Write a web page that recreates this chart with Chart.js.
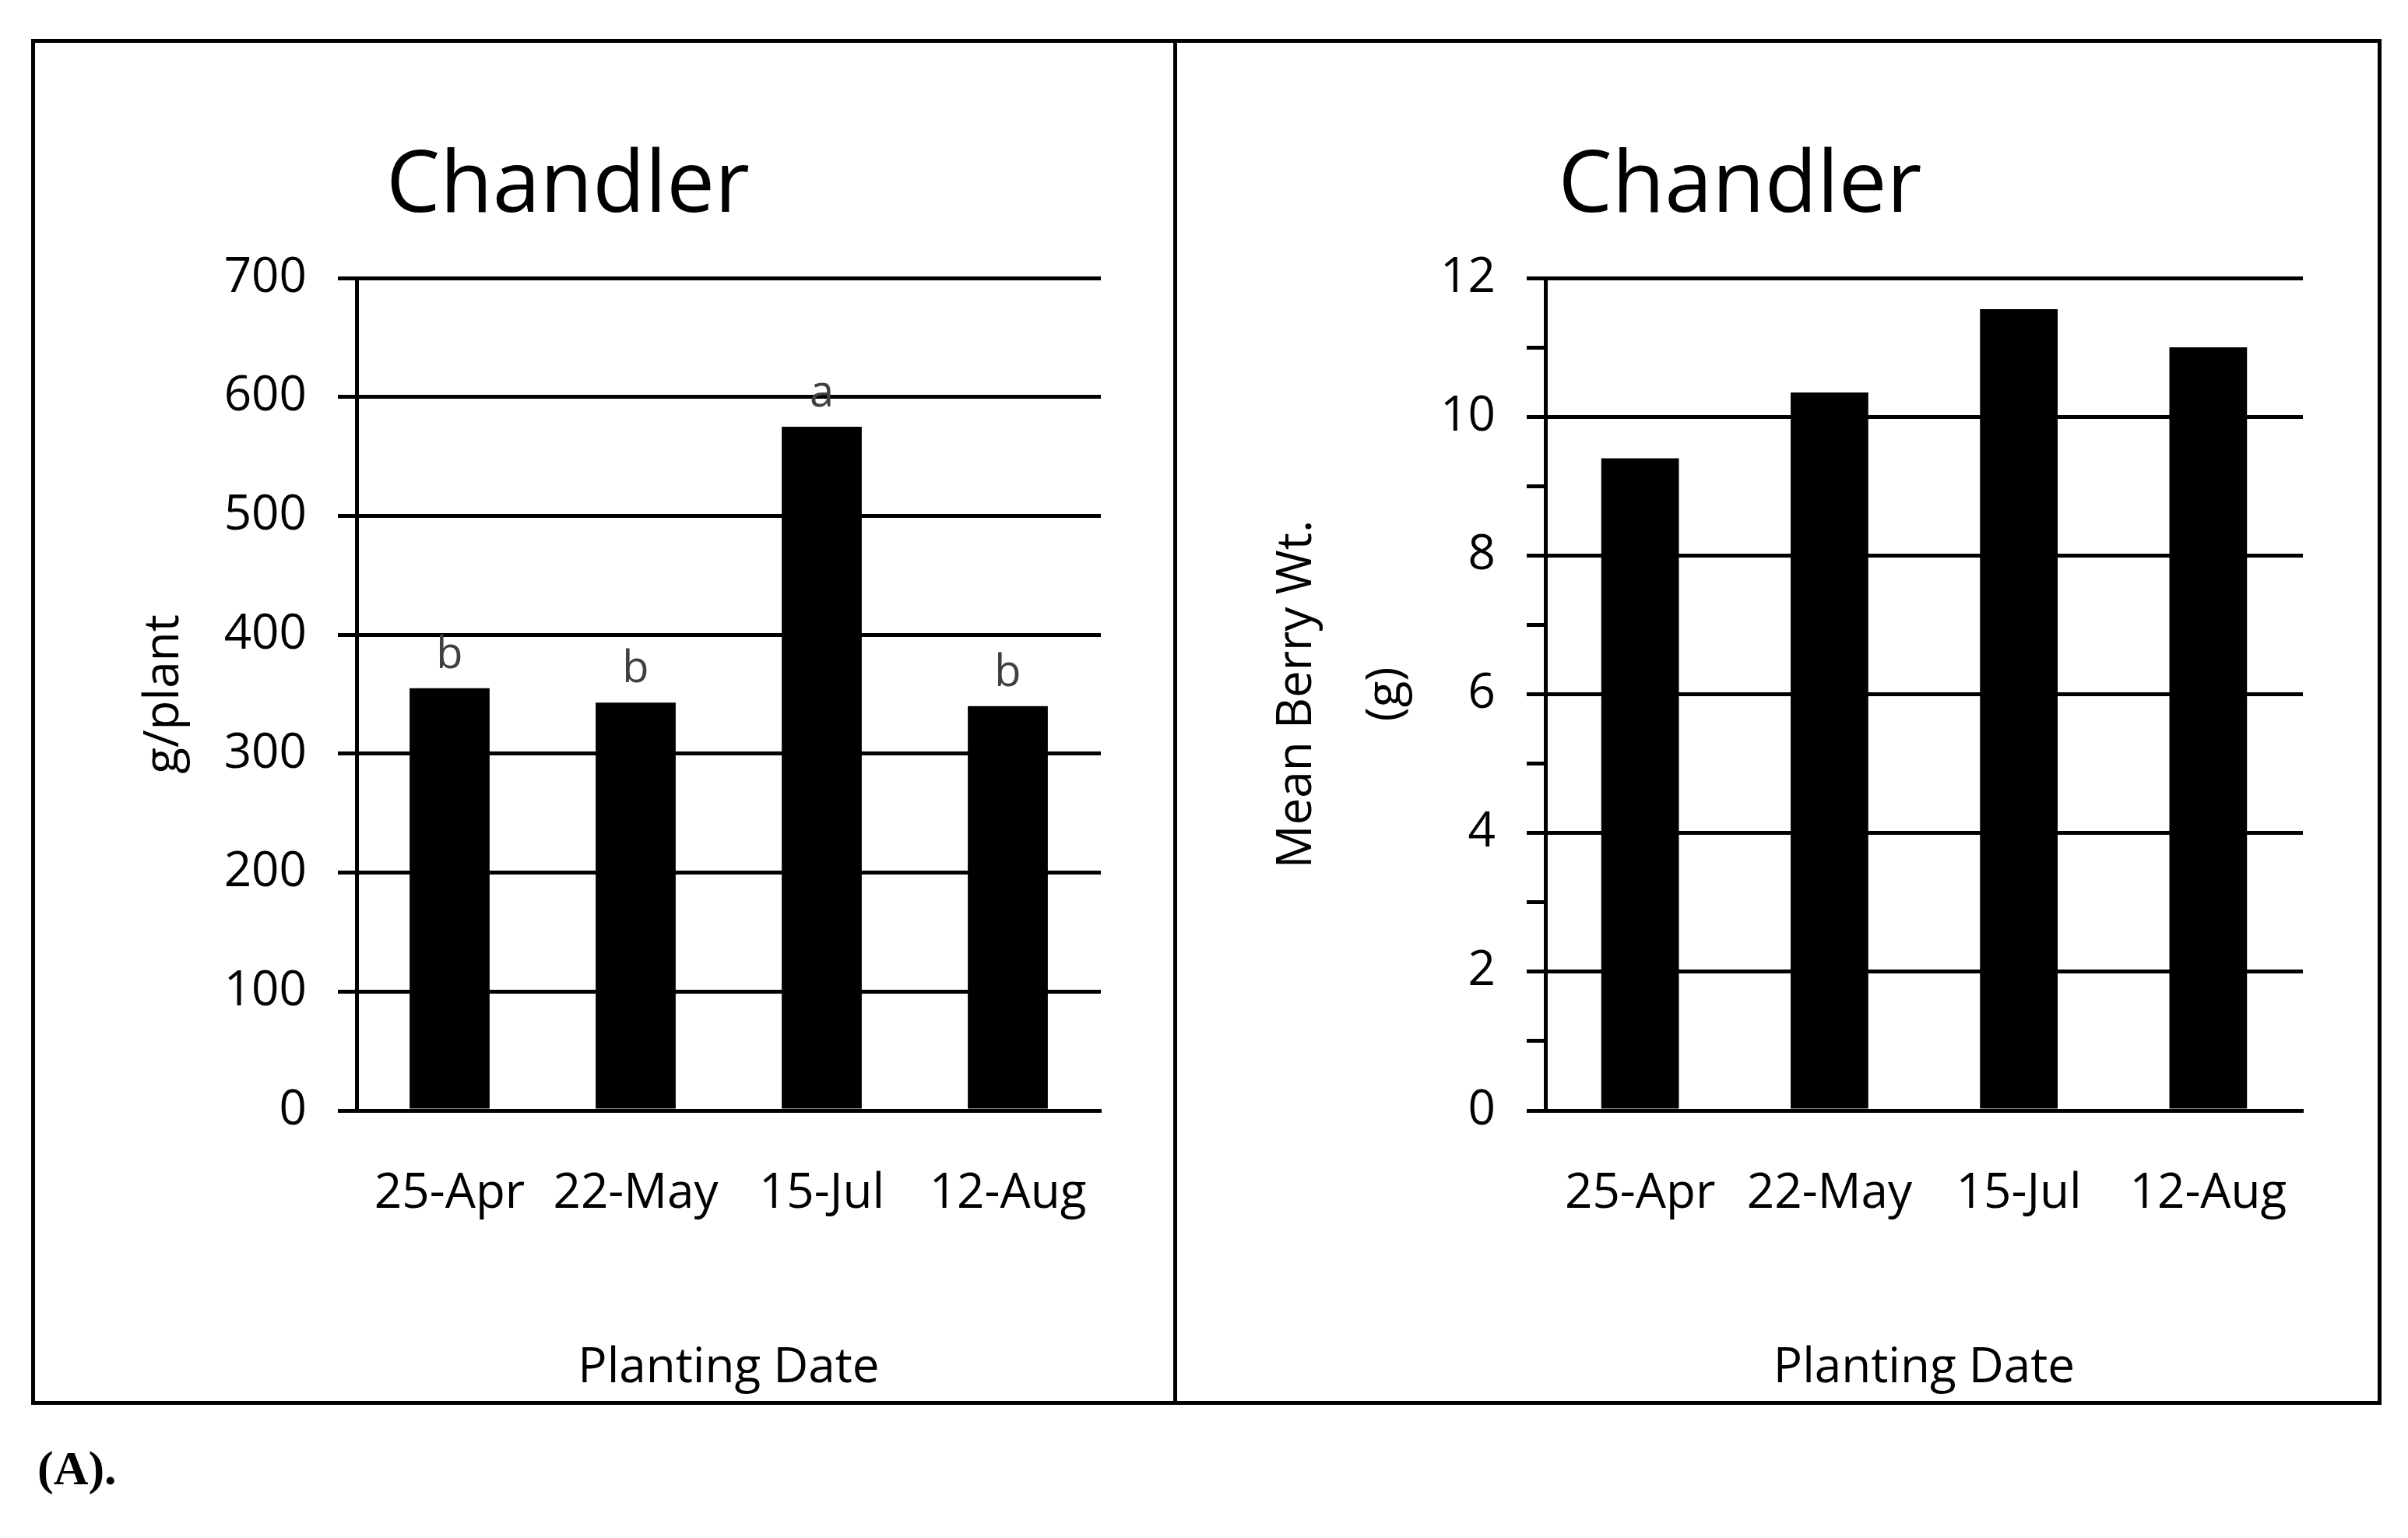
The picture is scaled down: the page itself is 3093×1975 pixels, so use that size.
<!DOCTYPE html>
<html><head><meta charset="utf-8">
<script src="https://cdn.jsdelivr.net/npm/chart.js@4"></script>
<style>
body{margin:0;background:#fff;width:3093px;height:1975px;position:relative;overflow:hidden}
#frame{position:absolute;left:40px;top:50px;width:3009px;height:1744px;border:5px solid #000}
#divider{position:absolute;left:1507px;top:50px;width:5px;height:1754px;background:#000}
.box{position:absolute;top:55px;height:1744px}
#capt{position:absolute;left:48px;top:1850px;font:bold 62px "Liberation Serif",serif}
</style></head><body>
<div id="frame"></div><div id="divider"></div>
<div class="box" style="left:45px;width:1462px"><canvas id="c1"></canvas></div>
<div class="box" style="left:1512px;width:1537px"><canvas id="c2"></canvas></div>
<div id="capt">(A).</div>
<script>
let dates = ['25-Apr', '22-May', '15-Jul', '12-Aug'];
let yieldValues = [355, 343, 575, 340];
let yieldLetters = ['b', 'b', 'a', 'b'];
let berryValues = [9.4, 10.35, 11.55, 11.0];

const FONT = '"Open Sans", "Liberation Sans", sans-serif';
Chart.defaults.font.family = FONT;
Chart.defaults.color = '#000';

const letterPlugin = {
    id: 'letters',
    afterDatasetsDraw(chart, args, opts) {
        if (!opts.letters) return;
        const ctx = chart.ctx;
        const meta = chart.getDatasetMeta(0);
        ctx.save();
        ctx.fillStyle = '#404040';
        ctx.font = '56px ' + FONT;
        ctx.textAlign = 'center';
        ctx.textBaseline = 'bottom';
        meta.data.forEach((bar, i) => {
            ctx.fillText(opts.letters[i], bar.x, bar.y - 14);
        });
        ctx.restore();
    }
};

function makeChart(id, values, max, step, yTitle, yWidth, padRight, letters, bp, titleLH, titlePad) {
    new Chart(document.getElementById(id), {
        type: 'bar',
        data: {
            labels: dates,
            datasets: [{ data: values, backgroundColor: '#000', barPercentage: bp, categoryPercentage: 1 }]
        },
        options: {
            responsive: true,
            maintainAspectRatio: false,
            animation: false,
            layout: { padding: { right: padRight, top: 0 } },
            plugins: {
                legend: { display: false },
                tooltip: { enabled: false },
                title: {
                    display: true, text: 'Chandler', color: '#000',
                    font: { size: 110, weight: 'normal' },
                    padding: { top: 120, bottom: 50 }
                },
                letters: { letters: letters }
            },
            scales: {
                x: {
                    grid: { display: false },
                    border: { color: '#000', width: 5 },
                    ticks: { font: { size: 62 }, padding: 62, maxRotation: 0, autoSkip: false },
                    title: { display: true, text: 'Planting Date', font: { size: 62 }, padding: { top: 20 } },
                    afterFit(s) { s.height = 373; }
                },
                y: {
                    min: 0, max: max,
                    ticks: {
                        stepSize: step, font: { size: 62 }, padding: 40,
                        callback: v => (step === 1 && v % 2 === 1) ? '' : v
                    },
                    grid: {
                        color: c => (step === 1 && c.tick && c.tick.value % 2 === 1) ? 'rgba(0,0,0,0)' : '#000',
                        tickColor: '#000', lineWidth: 5, tickLength: 24
                    },
                    border: { color: '#000', width: 5 },
                    title: { display: true, text: yTitle, font: { size: 62, lineHeight: titleLH }, padding: { top: titlePad } },
                    afterFit(s) { s.width = yWidth; }
                }
            }
        },
        plugins: [letterPlugin]
    });
}

makeChart('c1', yieldValues, 700, 100, 'g/plant', 413, 93, yieldLetters, 0.43, 1.2, 129);
makeChart('c2', berryValues, 12, 1, ['Mean Berry Wt.', '(g)'], 473, 91, null, 0.41, 1.85, 97);
</script>
</body></html>
